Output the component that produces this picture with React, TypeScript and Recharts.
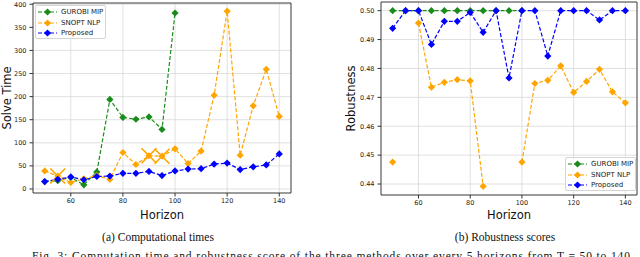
import React from 'react';
import { LineChart, Line, XAxis, YAxis, CartesianGrid, ReferenceArea, Legend } from 'recharts';

// horizons T = 50..140, every 5
const horizons = [50, 55, 60, 65, 70, 75, 80, 85, 90, 95, 100, 105, 110, 115, 120, 125, 130, 135, 140];

// (a) solve time
const gurobiTime = [16, 18, 25, 9, 37, 194, 155, 151, 156, 129, 381, null, null, null, null, null, null, null, null];
const snoptTime = [39, 28, 14, 22, 29, 21, 79, 53, 72, 71, 87, 55, 82, 203, 385, 73, 180, 259, 157];
const proposedTime = [16, 21, 26, 20, 27, 28, 34, 34, 38, 29, 39, 43, 44, 54, 56, 42, 48, 52, 76];
// horizons where SNOPT returned no feasible solution (drawn with a big x)
const snoptInfeasible = [55, 90, 95];

// (b) robustness
const gurobiRob = [0.5, 0.5, 0.5, 0.5, 0.5, 0.5, 0.5, 0.5, 0.5, 0.5, 0.5, null, null, null, null, null, null, null, null];
const snoptRob = [0.4476, null, 0.4957, 0.4735, 0.4752, 0.4761, 0.4757, 0.4392, null, null, 0.4476, 0.4748, 0.4759, 0.4809, 0.4717, 0.4755, 0.4797, 0.4719, 0.4681];
const proposedRob = [0.4939, 0.5, 0.5, 0.4883, 0.4963, 0.4963, 0.4994, 0.4925, 0.5, 0.4767, 0.5, 0.5, 0.4843, 0.5, 0.5, 0.5, 0.4968, 0.5, 0.5];

const xTicks = [60, 80, 100, 120, 140];
const timeTicks = [0, 50, 100, 150, 200, 250, 300, 350, 400];
const robTicks = [0.44, 0.45, 0.46, 0.47, 0.48, 0.49, 0.5];

const seriesNames = ['GUROBI MIP', 'SNOPT NLP', 'Proposed'];
const GREEN = '#1a8c1a';
const ORANGE = '#ffa500';
const BLUE = '#0000ff';
const colors = [GREEN, ORANGE, BLUE];

const timeData = horizons.map((h, i) => ({ h, gurobi: gurobiTime[i], snopt: snoptTime[i], proposed: proposedTime[i] }));
const robData = horizons.map((h, i) => ({ h, gurobi: gurobiRob[i], snopt: snoptRob[i], proposed: proposedRob[i] }));

const X_DOMAIN = [45.5, 144.5];
const TIME_DOMAIN = [-8.7, 402.7];
const ROB_DOMAIN = [0.4362, 0.503];

const tickFont = { fontFamily: 'DejaVu Sans', fontSize: 6.5, fill: '#222' };

const diamond = (color: string, dataKey: string, crosses?: number[]) => (props: any) => {
  const { cx, cy, index, payload } = props;
  if (cx == null || cy == null || payload[dataKey] == null) return <g key={`n-${index}`} />;
  const r = 3.6;
  const big = crosses && crosses.includes(payload.h);
  return (
    <g key={`d-${index}`}>
      {big && (
        <g stroke={color} strokeWidth={1.6}>
          <line x1={cx - 7.5} y1={cy - 7.5} x2={cx + 7.5} y2={cy + 7.5} />
          <line x1={cx - 7.5} y1={cy + 7.5} x2={cx + 7.5} y2={cy - 7.5} />
        </g>
      )}
      <polygon points={`${cx},${cy - r} ${cx + r},${cy} ${cx},${cy + r} ${cx - r},${cy}`} fill={color} />
    </g>
  );
};

function LegendBox() {
  return (
    <div style={{ width: 69, height: 32, border: '1px solid #d4d4d4', borderRadius: 2, background: 'rgba(255,255,255,0.85)', fontFamily: 'DejaVu Sans', fontSize: 7, color: '#222', boxSizing: 'content-box' }}>
      {seriesNames.map((name, i) => (
        <div key={name} style={{ display: 'flex', alignItems: 'center', height: 10.7, marginTop: i === 0 ? 0.5 : 0 }}>
          <svg width={24} height={8} style={{ flex: 'none' }}>
            <line x1={2} y1={4} x2={21} y2={4} stroke={colors[i]} strokeWidth={1.2} strokeDasharray="4 2" />
            <polygon points="11.5,0.4 15.1,4 11.5,7.6 7.9,4" fill={colors[i]} />
          </svg>
          <span style={{ marginLeft: 1, whiteSpace: 'nowrap' }}>{name}</span>
        </div>
      ))}
    </div>
  );
}

const yTitle = (text: string, x: number) => (props: any) => {
  const vb = props.viewBox || {};
  const cy = vb.y + vb.height / 2;
  return (
    <text x={x} y={cy} transform={`rotate(-90, ${x}, ${cy})`} textAnchor="middle" dominantBaseline="central" fontFamily="DejaVu Sans" fontSize={11.5} fill="#111">
      {text}
    </text>
  );
};

const xTitle = (y: number) => (props: any) => {
  const vb = props.viewBox || {};
  const cx = vb.x + vb.width / 2;
  return (
    <text x={cx} y={y} textAnchor="middle" fontFamily="DejaVu Sans" fontSize={11.5} fill="#111">
      Horizon
    </text>
  );
};

function Series({ crosses }: { crosses?: number[] }) {
  return null;
}

export default function App() {
  const lineProps = { type: 'linear' as const, strokeWidth: 1.2, strokeDasharray: '4 2', activeDot: false, isAnimationActive: false, connectNulls: false };
  return (
    <div style={{ position: 'fixed', left: 0, top: 0, width: 640, height: 257, overflow: 'hidden', background: '#fff' }}>
      <div style={{ position: 'absolute', left: 0, top: 0 }}>
        <LineChart width={300} height={230} data={timeData} margin={{ top: 3, right: 9, bottom: 0, left: 0 }}>
          <CartesianGrid stroke="#d8d8d8" strokeWidth={0.8} />
          <XAxis dataKey="h" type="number" domain={X_DOMAIN} ticks={xTicks} allowDataOverflow height={37} axisLine={false} tickLine={{ stroke: '#333' }} tickSize={3.5} tickMargin={2} tick={tickFont} label={xTitle(218.5)} />
          <YAxis type="number" domain={TIME_DOMAIN} ticks={timeTicks} allowDataOverflow width={33} axisLine={false} tickLine={{ stroke: '#333' }} tickSize={3.5} tickMargin={3} tick={tickFont} label={yTitle('Solve Time', 7)} />
          <ReferenceArea x1={X_DOMAIN[0]} x2={X_DOMAIN[1]} y1={TIME_DOMAIN[0]} y2={TIME_DOMAIN[1]} fill="none" fillOpacity={0} stroke="#333" strokeWidth={0.9} />
          <Line {...lineProps} dataKey="gurobi" name={seriesNames[0]} stroke={GREEN} dot={diamond(GREEN, 'gurobi')} />
          <Line {...lineProps} dataKey="snopt" name={seriesNames[1]} stroke={ORANGE} dot={diamond(ORANGE, 'snopt', snoptInfeasible)} />
          <Line {...lineProps} dataKey="proposed" name={seriesNames[2]} stroke={BLUE} dot={diamond(BLUE, 'proposed')} />
          <Legend layout="vertical" align="center" verticalAlign="middle" content={() => <LegendBox />} wrapperStyle={{ left: 35, top: 5, width: 71, height: 34, right: 'auto', bottom: 'auto' }} />
        </LineChart>
      </div>
      <div style={{ position: 'absolute', left: 320, top: 0 }}>
        <LineChart width={320} height={232} data={robData} margin={{ top: 2, right: 3, bottom: 0, left: 0 }}>
          <CartesianGrid stroke="#d8d8d8" strokeWidth={0.8} />
          <XAxis dataKey="h" type="number" domain={X_DOMAIN} ticks={xTicks} allowDataOverflow height={37} axisLine={false} tickLine={{ stroke: '#333' }} tickSize={3.5} tickMargin={1.5} tick={tickFont} label={xTitle(218.5)} />
          <YAxis type="number" domain={ROB_DOMAIN} ticks={robTicks} allowDataOverflow width={61} axisLine={false} tickLine={{ stroke: '#333' }} tickSize={3.5} tickMargin={3} tick={tickFont} tickFormatter={(v: number) => v.toFixed(2)} label={yTitle('Robustness', 31)} />
          <ReferenceArea x1={X_DOMAIN[0]} x2={X_DOMAIN[1]} y1={ROB_DOMAIN[0]} y2={ROB_DOMAIN[1]} fill="none" fillOpacity={0} stroke="#333" strokeWidth={0.9} />
          <Line {...lineProps} dataKey="gurobi" name={seriesNames[0]} stroke={GREEN} dot={diamond(GREEN, 'gurobi')} />
          <Line {...lineProps} dataKey="snopt" name={seriesNames[1]} stroke={ORANGE} dot={diamond(ORANGE, 'snopt')} />
          <Line {...lineProps} dataKey="proposed" name={seriesNames[2]} stroke={BLUE} dot={diamond(BLUE, 'proposed')} />
          <Legend layout="vertical" align="center" verticalAlign="middle" content={() => <LegendBox />} wrapperStyle={{ left: 245, top: 157, width: 71, height: 34, right: 'auto', bottom: 'auto' }} />
        </LineChart>
      </div>
      <svg width={640} height={257} style={{ position: 'absolute', left: 0, top: 0, pointerEvents: 'none' }}>
        <g fontFamily="Liberation Serif" fontSize={11.5} fill="#111">
          <text x={158} y={240.5} textAnchor="middle">(a) Computational times</text>
          <text x={505} y={240.5} textAnchor="middle">(b) Robustness scores</text>
          <text x={32} y={259.5} textLength={598} lengthAdjust="spacing">Fig. 3: Computation time and robustness score of the three methods over every 5 horizons from T = 50 to 140</text>
        </g>
      </svg>
    </div>
  );
}
